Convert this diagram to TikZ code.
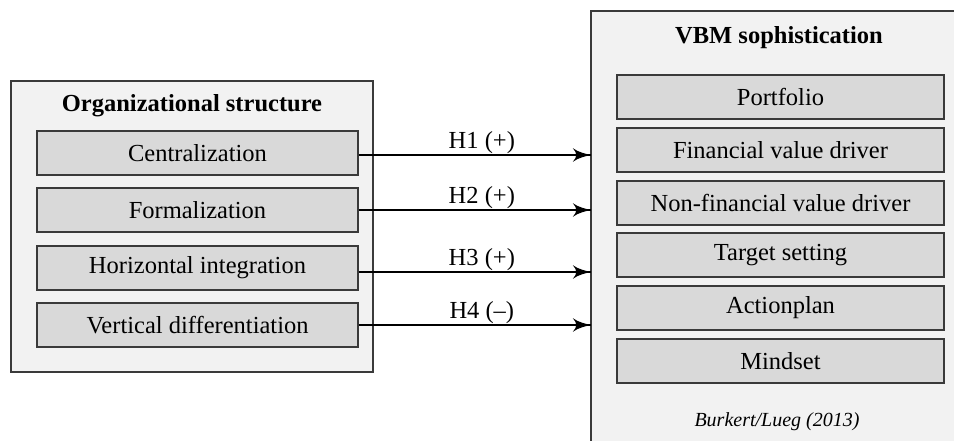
\documentclass[tikz,border=0pt]{standalone}
\usepackage{fontspec}
\setmainfont{Liberation Serif}
\usetikzlibrary{arrows}
\usetikzlibrary{decorations.markings}
\usetikzlibrary{positioning}
\definecolor{panelgray}{HTML}{F2F2F2}
\definecolor{itemgray}{HTML}{D9D9D9}
\definecolor{edgegray}{HTML}{3A3A3A}
\tikzset{hyp/.style = {decoration={markings,
                                   mark=at position 1 with {\arrow[scale=2.6]{latex'}}},
                       postaction={decorate}}}
\tikzset{panel/.style = {draw=edgegray, fill=panelgray, line width=1.4pt}}
\tikzset{item/.style = {draw=edgegray, fill=itemgray, line width=1.4pt,
                        minimum height=44, inner sep=0}}
\tikzset{every node/.style = {font=\fontsize{24.5}{29}\selectfont}}

\begin{document}
\begin{tikzpicture}[x=1pt, y=-1pt]
    \clip (0, 0) rectangle (954, 441);
    \fill [white] (0, 0) rectangle (954, 441);

    % organizational structure
    \draw [panel] (11, 81) rectangle (373, 372);
    \node (org) at (192, 106) {\bfseries Organizational structure};
    \node [item, minimum width=321] (cen) at (197.5, 153) {Centralization};
    \node [item, minimum width=321] (for) at (197.5, 210) {Formalization};
    \node [item, minimum width=321] (hor) at (197.5, 268) {Horizontal integration};
    \node [item, minimum width=321] (ver) at (197.5, 325) {Vertical differentiation};

    % VBM sophistication
    \draw [panel] (591, 11) rectangle (962, 450);
    \coordinate (vbm) at (591, 230);
    \node (vbmtitle) at (779, 38) {\bfseries VBM sophistication};
    \node [item, minimum width=327] (port) at (780.5, 97) {Portfolio};
    \node [item, minimum width=327] (fin) at (780.5, 150) {Financial value driver};
    \node [item, minimum width=327] (nonfin) at (780.5, 203) {Non-financial value driver};
    \node [item, minimum width=327] (target) at (780.5, 255) {Target setting};
    \node [item, minimum width=327] (action) at (780.5, 308) {Actionplan};
    \node [item, minimum width=327] (mind) at (780.5, 361) {Mindset};
    \node [font=\fontsize{20}{24}\selectfont\itshape] (cite) at (777, 422) {Burkert/Lueg (2013)};

    % hypotheses
    \draw [hyp, line width=1.4pt] ([yshift=-2]cen.east) -- ([yshift=-2]cen.east -| vbm)
        node [pos=0.53, above, inner sep=1] {H1 (+)};
    \draw [hyp, line width=1.4pt] (for.east) -- (for.east -| vbm)
        node [pos=0.53, above, inner sep=1] {H2 (+)};
    \draw [hyp, line width=1.4pt] ([yshift=-4]hor.east) -- ([yshift=-4]hor.east -| vbm)
        node [pos=0.53, above, inner sep=1] {H3 (+)};
    \draw [hyp, line width=1.4pt] (ver.east) -- (ver.east -| vbm)
        node [pos=0.53, above, inner sep=1] {H4 (–)};
  \end{tikzpicture}
\end{document}
